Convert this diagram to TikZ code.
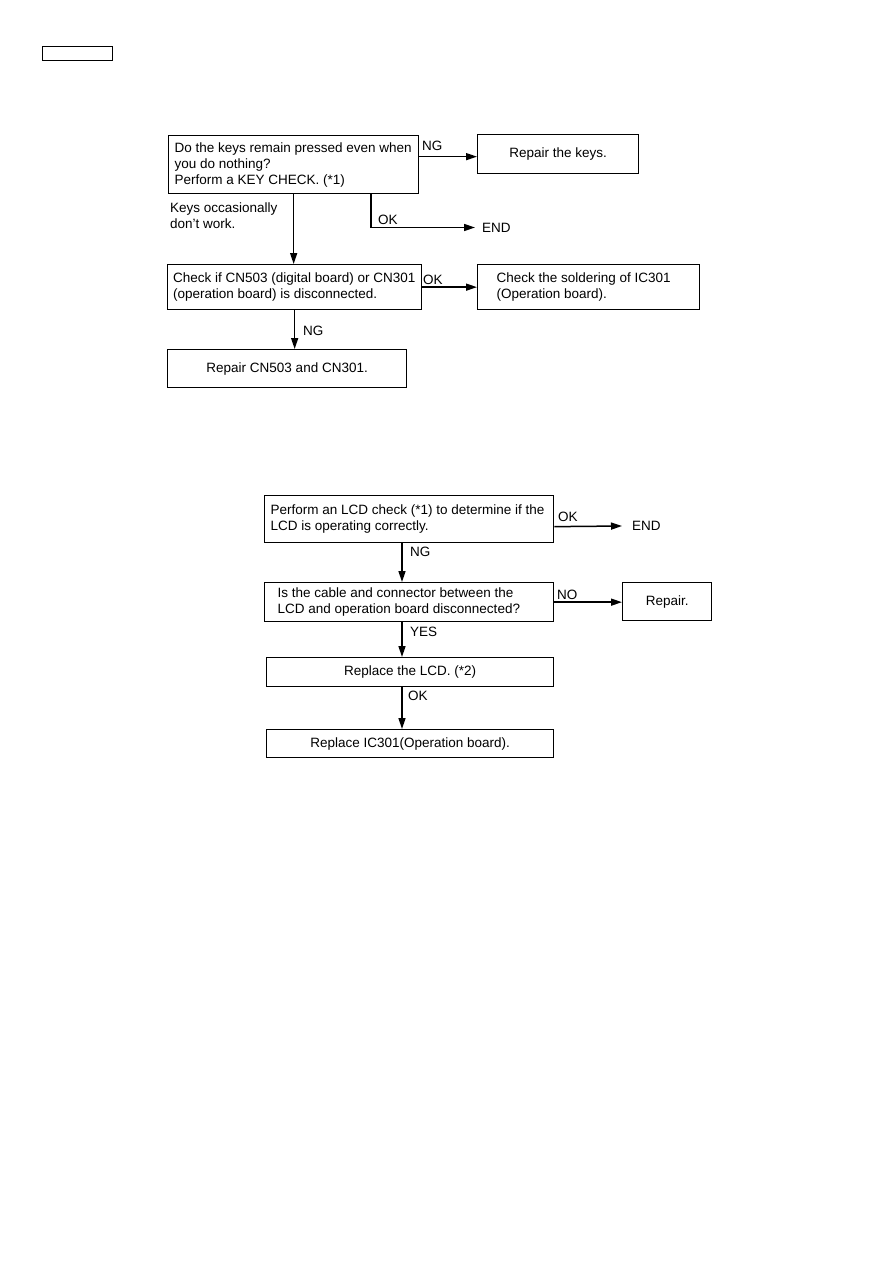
\documentclass[tikz,border=0pt]{standalone}
\usepackage{fontspec}
\setmainfont{Liberation Sans}
\usetikzlibrary{arrows.meta, positioning, calc}

\begin{document}
\begin{tikzpicture}[
    x=1pt, y=-1pt,
    font=\fontsize{13.5}{16}\selectfont,
    box/.style={rectangle, draw, line width=1.3pt, anchor=north west, inner ysep=0pt},
    leftbox/.style={box, align=flush left},
    centerbox/.style={box, align=center},
    tag/.style={anchor=west, inner sep=0pt},
    arrow/.style={-{Triangle[length=11pt,width=7pt]}, line width=1.5pt}
]
    \useasboundingbox (0,0) rectangle (893,1263);

    % Page tag
    \node[box, minimum width=70pt, minimum height=14pt] (pagetag) at (42,46) {};

    % Key check
    \node[leftbox, text width=238pt, inner xsep=6pt, minimum height=58pt] (keys) at (168,135) {Do the keys remain pressed even when\\you do nothing?\\Perform a KEY CHECK. (*1)};
    \node[centerbox, minimum width=161pt, minimum height=39pt] (fixkeys) at (477,134) {Repair the keys.};
    \node[leftbox, text width=243pt, inner xsep=5.5pt, minimum height=45pt] (connect) at (167,264) {Check if CN503 (digital board) or CN301\\(operation board) is disconnected.};
    \node[leftbox, text width=184pt, inner xsep=19pt, minimum height=45pt] (solder) at (477,264) {Check the soldering of IC301\\(Operation board).};
    \node[centerbox, minimum width=239pt, minimum height=38pt] (fixcn) at (167,349) {Repair CN503 and CN301.};
    \node[tag, inner xsep=7pt] (end1) at (475,227.5) {END};
    \coordinate (okbend) at (371,227.5);

    % Arrows
    \draw[arrow] ([yshift=-2.5pt]fixkeys.west -| keys.east) -- ([yshift=-2.5pt]fixkeys.west);
    \draw[arrow] (keys.south -| okbend) -- (okbend) -- (end1.west);
    \draw[arrow] (keys.south) -- (keys.south |- connect.north);
    \draw[arrow] (connect.east) -- (solder.west);
    \draw[arrow] (connect.south) -- (connect.south |- fixcn.north);

    % Labels
    \node[tag] (ng1) at (422,146) {NG};
    \node[tag] (ok1) at (378,220) {OK};
    \node[tag, anchor=north west, align=left] (keysnote) at (170,203) {Keys occasionally\\don't work.};
    \node[tag] (ok2) at (423,280) {OK};
    \node[tag] (ng2) at (303,331) {NG};

    % LCD check
    \node[leftbox, text width=277pt, inner xsep=6pt, minimum height=47pt] (lcdcheck) at (264,495) {Perform an LCD check (*1) to determine if the\\LCD is operating correctly.};
    \node[leftbox, text width=263pt, inner xsep=13pt, minimum height=39pt] (cable) at (264,582) {Is the cable and connector between the\\LCD and operation board disconnected?};
    \node[centerbox, minimum width=89pt, minimum height=38pt] (repair) at (622,582) {Repair.};
    \node[centerbox, minimum width=287pt, minimum height=29pt] (newlcd) at (266,657) {Replace the LCD. (*2)};
    \node[centerbox, minimum width=287pt, minimum height=28pt] (newic) at (266,729) {Replace IC301(Operation board).};
    \node[tag, inner xsep=10pt] (end2) at (622,526) {END};
    \coordinate (spine) at (402,0);

    % Arrows
    \draw[arrow] ([yshift=-7.5pt]lcdcheck.east) -- (end2.west);
    \draw[arrow] (lcdcheck.south -| spine) -- (cable.north -| spine);
    \draw[arrow] (cable.east) -- (cable.east -| repair.west);
    \draw[arrow] (cable.south -| spine) -- (newlcd.north -| spine);
    \draw[arrow] (newlcd.south -| spine) -- (newic.north -| spine);

    % Labels
    \node[tag] (ok3) at (558,517) {OK};
    \node[tag] (ng3) at (410,552) {NG};
    \node[tag] (no1) at (557,595) {NO};
    \node[tag] (yes1) at (410,632) {YES};
    \node[tag] (ok4) at (408,696) {OK};

\end{tikzpicture}
\end{document}
